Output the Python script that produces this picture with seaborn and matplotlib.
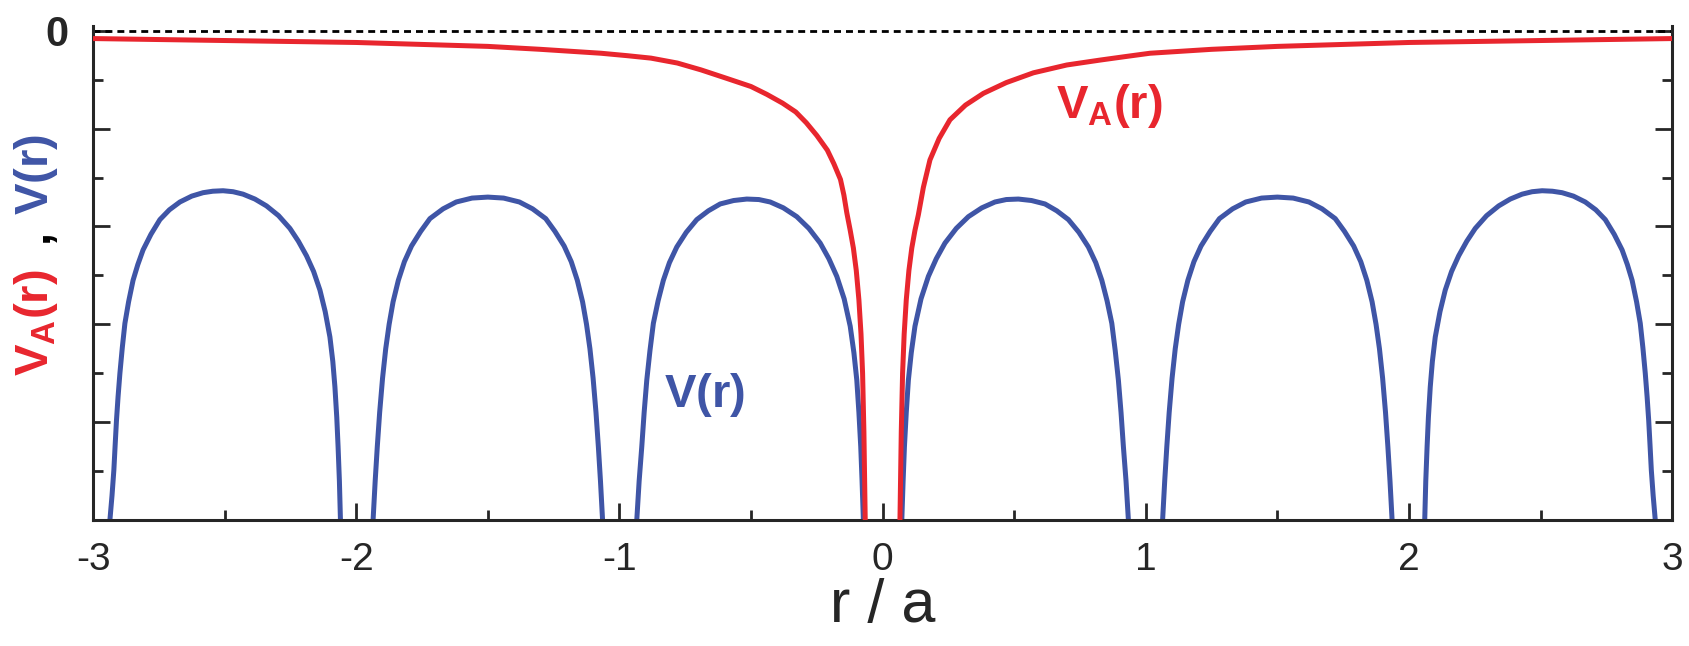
import numpy as np
import pandas as pd
import matplotlib
matplotlib.use('Agg')
import matplotlib.pyplot as plt
import seaborn as sns

# --- data ---
red_left_x = [-3.0, -2.75, -2.5, -2.25, -2.0, -1.75, -1.5, -1.3, -1.07, -0.97, -0.88, -0.78, -0.69, -0.60, -0.50,
              -0.44, -0.38, -0.33, -0.29, -0.25, -0.21, -0.185, -0.16, -0.147, -0.136, -0.123, -0.111, -0.100,
              -0.090, -0.082, -0.076, -0.071, -0.066]
red_left_y = [-0.08, -0.09, -0.10, -0.11, -0.12, -0.14, -0.16, -0.19, -0.23, -0.255, -0.28, -0.33, -0.40, -0.48, -0.57,
              -0.65, -0.74, -0.83, -0.94, -1.07, -1.22, -1.36, -1.52, -1.68, -1.86, -2.04, -2.22, -2.45,
              -2.75, -3.1, -3.5, -4.1, -5.0]
red_right_x = [0.066, 0.071, 0.076, 0.082, 0.090, 0.100, 0.111, 0.123, 0.136, 0.155, 0.18, 0.215, 0.256, 0.315,
               0.383, 0.47, 0.573, 0.70, 0.826, 0.92, 1.016, 1.25, 1.5, 1.75, 2.0, 2.25, 2.5, 2.75, 3.0]
red_right_y = [-5.0, -4.1, -3.5, -3.1, -2.75, -2.45, -2.22, -2.04, -1.88, -1.6, -1.32, -1.1, -0.91, -0.76,
               -0.64, -0.53, -0.43, -0.35, -0.30, -0.265, -0.23, -0.19, -0.16, -0.14, -0.12, -0.11, -0.10, -0.09, -0.08]

arch1_x = [-2.936, -2.928, -2.921, -2.916, -2.911, -2.905, -2.898, -2.889, -2.879, -2.865, -2.848, -2.830, -2.810,
           -2.780, -2.746, -2.710, -2.670, -2.625, -2.582, -2.545, -2.506, -2.468, -2.430, -2.385, -2.341, -2.295,
           -2.252, -2.220, -2.189, -2.162, -2.138, -2.118, -2.100, -2.089, -2.081, -2.074, -2.069, -2.064, -2.060]
arch1_y = [-5.0, -4.75, -4.49, -4.23, -3.98, -3.74, -3.50, -3.24, -2.99, -2.77, -2.55, -2.39, -2.24,
           -2.08, -1.93, -1.83, -1.75, -1.69, -1.655, -1.64, -1.635, -1.645, -1.67, -1.72, -1.79, -1.89,
           -2.02, -2.15, -2.30, -2.46, -2.65, -2.87, -3.13, -3.38, -3.64, -3.95, -4.25, -4.6, -5.0]
arch2_x = [-1.936, -1.928, -1.920, -1.911, -1.900, -1.888, -1.875, -1.860, -1.840, -1.817, -1.790, -1.755, -1.720,
           -1.670, -1.620, -1.560, -1.500, -1.440, -1.380, -1.330, -1.280, -1.245, -1.210, -1.183, -1.160, -1.140,
           -1.125, -1.112, -1.100, -1.089, -1.080, -1.072, -1.064]
arch2_y = [-5.0, -4.6, -4.25, -3.9, -3.55, -3.25, -3.0, -2.77, -2.55, -2.36, -2.2, -2.05, -1.92,
           -1.82, -1.75, -1.71, -1.70, -1.71, -1.75, -1.82, -1.92, -2.05, -2.2, -2.36, -2.55, -2.77,
           -3.0, -3.25, -3.55, -3.9, -4.25, -4.6, -5.0]
arch3_x = [-0.934, -0.925, -0.915, -0.906, -0.896, -0.884, -0.871, -0.853, -0.833, -0.810, -0.782, -0.746, -0.706,
           -0.662, -0.617, -0.566, -0.516, -0.470, -0.427, -0.377, -0.326, -0.280, -0.237, -0.204, -0.174, -0.146,
           -0.123, -0.109, -0.098, -0.090, -0.083, -0.078, -0.073]
arch3_y = [-5.0, -4.6, -4.25, -3.9, -3.57, -3.27, -2.99, -2.76, -2.55, -2.37, -2.21, -2.06, -1.93,
           -1.84, -1.77, -1.735, -1.72, -1.725, -1.75, -1.81, -1.90, -2.02, -2.17, -2.33, -2.51, -2.74,
           -3.02, -3.29, -3.57, -3.9, -4.25, -4.6, -5.0]
arch4_x = [0.073, 0.078, 0.083, 0.090, 0.098, 0.109, 0.123, 0.146, 0.174, 0.204, 0.237, 0.280, 0.326,
           0.377, 0.427, 0.470, 0.516, 0.566, 0.617, 0.662, 0.706, 0.746, 0.782, 0.810, 0.833, 0.853,
           0.871, 0.884, 0.896, 0.906, 0.915, 0.925, 0.934]
arch4_y = [-5.0, -4.6, -4.25, -3.9, -3.57, -3.29, -3.02, -2.74, -2.51, -2.33, -2.17, -2.02, -1.90,
           -1.81, -1.75, -1.725, -1.72, -1.735, -1.77, -1.84, -1.93, -2.06, -2.21, -2.37, -2.55, -2.76,
           -2.99, -3.27, -3.57, -3.9, -4.25, -4.6, -5.0]
arch5_x = [1.064, 1.072, 1.080, 1.089, 1.100, 1.112, 1.125, 1.140, 1.160, 1.183, 1.210, 1.245, 1.280,
           1.330, 1.380, 1.440, 1.500, 1.560, 1.620, 1.670, 1.720, 1.755, 1.790, 1.817, 1.840, 1.860,
           1.875, 1.888, 1.900, 1.911, 1.920, 1.928, 1.936]
arch5_y = [-5.0, -4.6, -4.25, -3.9, -3.55, -3.25, -3.0, -2.77, -2.55, -2.36, -2.2, -2.05, -1.92,
           -1.82, -1.75, -1.71, -1.70, -1.71, -1.75, -1.82, -1.92, -2.05, -2.2, -2.36, -2.55, -2.77,
           -3.0, -3.25, -3.55, -3.9, -4.25, -4.6, -5.0]
arch6_x = [2.060, 2.064, 2.069, 2.074, 2.081, 2.089, 2.100, 2.118, 2.138, 2.162, 2.189, 2.220, 2.252,
           2.295, 2.341, 2.385, 2.430, 2.468, 2.506, 2.545, 2.582, 2.625, 2.670, 2.710, 2.746, 2.780,
           2.810, 2.830, 2.848, 2.865, 2.879, 2.889, 2.898, 2.905, 2.911, 2.916, 2.921, 2.928, 2.936]
arch6_y = [-5.0, -4.6, -4.25, -3.95, -3.64, -3.38, -3.13, -2.87, -2.65, -2.46, -2.30, -2.15, -2.02,
           -1.89, -1.79, -1.72, -1.67, -1.645, -1.635, -1.64, -1.655, -1.69, -1.75, -1.83, -1.93, -2.08,
           -2.24, -2.39, -2.55, -2.77, -2.99, -3.24, -3.50, -3.74, -3.98, -4.23, -4.49, -4.75, -5.0]

xticks = [-3, -2, -1, 0, 1, 2, 3]
xticklabels = ['-3', '-2', '-1', '0', '1', '2', '3']

RED = '#E8262E'
BLUE = '#3F55A6'

arches = [(arch1_x, arch1_y), (arch2_x, arch2_y), (arch3_x, arch3_y),
          (arch4_x, arch4_y), (arch5_x, arch5_y), (arch6_x, arch6_y)]
blue = pd.concat([pd.DataFrame({'r': bx, 'V': by, 'arch': i}) for i, (bx, by) in enumerate(arches)])
red = pd.concat([
    pd.DataFrame({'r': red_left_x, 'V': red_left_y, 'seg': 0}),
    pd.DataFrame({'r': red_right_x, 'V': red_right_y, 'seg': 1}),
])

sns.set_style('ticks')
plt.rcParams['font.family'] = ['Liberation Sans', 'DejaVu Sans']
plt.rcParams['mathtext.fontset'] = 'custom'
plt.rcParams['mathtext.rm'] = 'Liberation Sans'
plt.rcParams['mathtext.bf'] = 'Liberation Sans:bold'

fig = plt.figure(figsize=(16.89, 6.46), dpi=100)
ax = fig.add_axes([0.0551, 0.195, 0.9349, 0.765])

ax.axhline(0, color='black', lw=2.0, ls=(0, (2.5, 1.8)), zorder=1)
sns.lineplot(data=blue, x='r', y='V', units='arch', estimator=None, sort=False,
             color=BLUE, lw=3.6, ax=ax, zorder=2)
sns.lineplot(data=red, x='r', y='V', units='seg', estimator=None, sort=False,
             color=RED, lw=3.6, ax=ax, zorder=3)

ax.set_xlim(-3, 3)
ax.set_ylim(-5, 0.05)
ax.set_xticks(xticks)
ax.set_xticklabels(xticklabels, fontsize=28)
ax.set_xticks([-2.5, -1.5, -0.5, 0.5, 1.5, 2.5], minor=True)
ax.set_yticks([0, -1, -2, -3, -4, -5])
ax.set_yticklabels(['0', '', '', '', '', ''], fontsize=30, fontweight='bold')
ax.set_yticks([-0.5, -1.5, -2.5, -3.5, -4.5], minor=True)
ax.tick_params(which='both', direction='in', width=2, right=True, top=False)
ax.tick_params(which='major', length=12)
ax.tick_params(which='minor', length=7)
ax.tick_params(axis='x', which='major', pad=16)
ax.tick_params(axis='y', which='major', pad=18)

for s in ['left', 'right', 'bottom']:
    ax.spines[s].set_linewidth(2.2)
ax.spines['top'].set_visible(False)

ax.set_xlabel('r / a', fontsize=44, labelpad=0)
ax.set_ylabel('')

# coloured y label built from pieces
ax.text(-0.036, 0.40, r'$\mathbf{V_A(r)}$', color=RED, fontsize=34, rotation=90,
        ha='center', va='center', transform=ax.transAxes)
ax.text(-0.036, 0.575, ',', color='black', fontsize=34, fontweight='bold', rotation=90,
        ha='center', va='center', transform=ax.transAxes)
ax.text(-0.036, 0.70, r'$\mathbf{V(r)}$', color=BLUE, fontsize=34, rotation=90,
        ha='center', va='center', transform=ax.transAxes)

ax.text(0.66, -0.89, r'$\mathbf{V_A(r)}$', color=RED, fontsize=34, va='baseline')
ax.text(-0.83, -3.85, r'$\mathbf{V(r)}$', color=BLUE, fontsize=34, va='baseline')

fig.savefig('out.png', dpi=100)
